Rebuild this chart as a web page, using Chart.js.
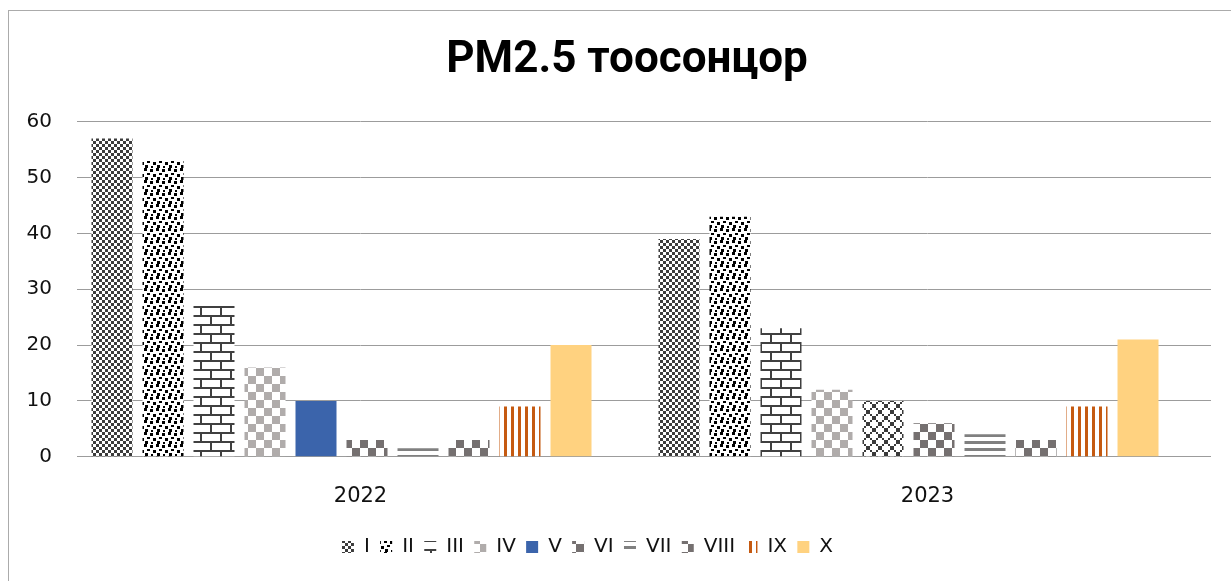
<!DOCTYPE html>
<html><head><meta charset="utf-8">
<script src="https://cdn.jsdelivr.net/npm/chart.js@4"></script>
<style>
html,body{margin:0;padding:0;background:#fff;overflow:hidden;width:1231px;height:581px}
#frame{position:absolute;left:8px;top:10px;width:1300px;height:700px;border:1px solid #ababab;box-sizing:border-box}
#wrap{position:absolute;left:0;top:0;width:1231px;height:581px}
</style></head><body>
<div id="frame"></div>
<div id="wrap"><canvas id="c" width="1231" height="581"></canvas></div>
<script>
// ---- data ----
const categories = ['2022', '2023'];
const seriesNames = ['I', 'II', 'III', 'IV', 'V', 'VI', 'VII', 'VIII', 'IX', 'X'];
const valuesI    = [57, 39];
const valuesII   = [53, 43];
const valuesIII  = [27, 23];
const valuesIV   = [16, 12];
const valuesV    = [10, 10];
const valuesVI   = [3, 6];
const valuesVII  = [1.5, 4];
const valuesVIII = [3, 3];
const valuesIX   = [9, 9];
const valuesX    = [20, 21];
const yTicks = [0, 10, 20, 30, 40, 50, 60];

const allValues = [valuesI, valuesII, valuesIII, valuesIV, valuesV, valuesVI, valuesVII, valuesVIII, valuesIX, valuesX];

// ---- patterns ----
const mainCtx = document.getElementById('c').getContext('2d');
function makePattern(w, h, draw) {
  const c = document.createElement('canvas');
  c.width = w; c.height = h;
  const g = c.getContext('2d');
  g.fillStyle = '#ffffff';
  g.fillRect(0, 0, w, h);
  draw(g);
  return mainCtx.createPattern(c, 'repeat');
}
const pI = makePattern(6, 6, g => { g.fillStyle = '#3c3c3c'; g.fillRect(0,0,3,3); g.fillRect(3,3,3,3); });
const pII = makePattern(12, 12, g => {
  g.fillStyle = '#000';
  [[0,0,3,3],[6,1,3,3],[3,5,3,2],[9,6,3,3],[1,9,3,3],[7,10,2,2]].forEach(r => g.fillRect(...r));
});
const pIII = makePattern(20, 18, g => {
  g.fillStyle = '#404040';
  g.fillRect(0,0,20,2); g.fillRect(0,9,20,2);
  g.fillRect(0,2,2,7); g.fillRect(10,11,2,7);
});
const pIV = makePattern(16, 16, g => { g.fillStyle = '#b0acab'; g.fillRect(0,0,8,8); g.fillRect(8,8,8,8); });
const pZig = makePattern(12, 12, g => {
  g.fillStyle = '#3a3a3a';
  for (let k = 0; k < 6; k++) {
    g.fillRect(k * 2, (k * 2) % 12, 2, 2);
    g.fillRect(k * 2, (12 - k * 2 + 6) % 12, 2, 2);
  }
});
const pVI = makePattern(16, 16, g => { g.fillStyle = '#757070'; g.fillRect(0,0,8,8); g.fillRect(8,8,8,8); });
const pVII = makePattern(8, 7, g => { g.fillStyle = '#808080'; g.fillRect(0,0,8,3); });
const pIX = makePattern(7, 8, g => { g.fillStyle = '#c55a11'; g.fillRect(0,0,3,8); });
const solidV = '#3b64ab';
const solidX = '#ffd280';

const fills = [pI, pII, pIII, pIV,
  (ctx) => (ctx.type === 'data' && ctx.dataIndex === 1) ? pZig : solidV,
  pVI, pVII, pVI, pIX, solidX];

const datasets = seriesNames.map((name, i) => ({
  label: name,
  data: categories.map((c, j) => ({ x: j, y: allValues[i][j] })),
  backgroundColor: fills[i],
  borderWidth: 0,
  categoryPercentage: 0.8995,
  barPercentage: 0.804
}));

// title and legend are centred on different points in the reference
const shiftBlocks = {
  id: 'shiftBlocks',
  afterLayout(chart) {
    const t = chart.titleBlock;
    if (t) { t.left += 23; t.width -= 23; }
    const l = chart.legend;
    if (l) { l.right -= 56; l.width -= 56; }
  }
};

new Chart(document.getElementById('c'), {
  type: 'bar',
  data: { datasets },
  plugins: [shiftBlocks],
  options: {
    responsive: false,
    animation: false,
    layout: { padding: { left: 20, right: 20, top: 0, bottom: 14 } },
    plugins: {
      title: {
        display: true, text: 'PM2.5 тоосонцор', color: '#000',
        font: { family: 'Roboto', size: 44, weight: 'bold' },
        padding: { top: 35, bottom: 34 }
      },
      legend: {
        position: 'bottom',
        labels: { boxWidth: 12, boxHeight: 12, padding: 10.3, color: '#111',
          font: { family: 'DejaVu Sans', size: 20 } }
      },
      tooltip: { enabled: false }
    },
    scales: {
      x: {
        type: 'linear', min: -0.4665, max: 1.5335, offset: false,
        grid: { display: false }, border: { display: false },
        afterBuildTicks: (s) => { s.ticks = categories.map((_, i) => ({ value: i })); },
        afterFit: (s) => { s.height = 70; },
        ticks: {
          callback: (v) => categories[v] ?? '',
          labelOffset: 19, padding: 19, color: '#111', maxRotation: 0, autoSkip: false,
          font: { family: 'DejaVu Sans', size: 21 }
        }
      },
      y: {
        min: yTicks[0], max: yTicks[yTicks.length - 1],
        afterBuildTicks: (s) => { s.ticks = yTicks.map(v => ({ value: v })); },
        afterFit: (s) => { s.width = 57; },
        ticks: { padding: 25, color: '#111', font: { family: 'DejaVu Sans', size: 20 } },
        grid: { color: '#9c9c9c', lineWidth: 1, drawTicks: false },
        border: { display: false }
      }
    }
  }
});
</script>
</body></html>
